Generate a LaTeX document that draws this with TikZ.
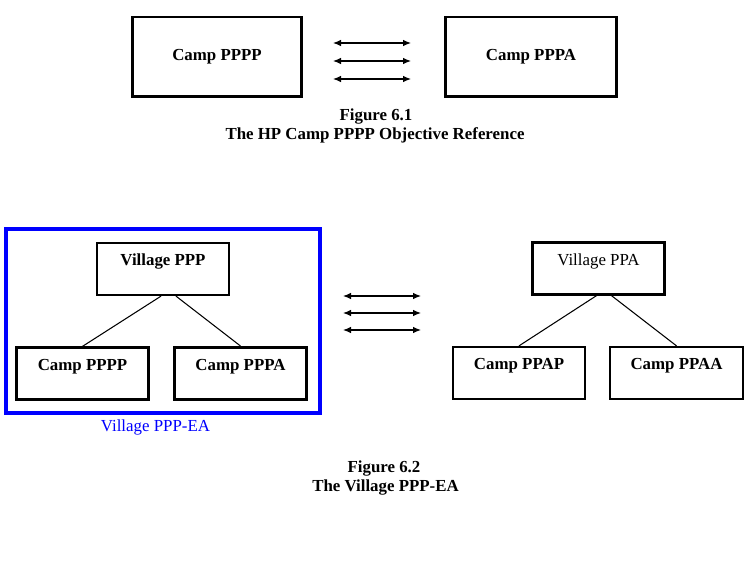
\documentclass[tikz,border=0pt]{standalone}
\usepackage{fontspec}
\setmainfont{Liberation Serif}
\usepackage{tikz}
\usetikzlibrary{arrows.meta,positioning}

\begin{document}
\begin{tikzpicture}[>={Latex[length=0.16cm,width=0.13cm]}, x=0.02cm, y=-0.02cm]
        \tikzset{camp/.style={rectangle, draw, line width=1.7pt, align=center, minimum width=3.4cm, minimum height=1.6cm, font=\fontsize{9.6}{11}\selectfont\bfseries}, unit/.style={rectangle, draw, line width=1.3pt, inner sep=0pt, minimum width=2.64cm, text height=0.45cm, text depth=0.59cm, font=\fontsize{9.6}{11}\selectfont\bfseries}, link/.style={line width=0.6pt}, caption/.style={anchor=base, align=center, font=\fontsize{9.6}{11}\selectfont\bfseries}}
        \useasboundingbox (0,0) rectangle (750,584);
        % Figure 6.1
        \node[camp] (pppp) at (217,57) {Camp PPPP};
        \node[camp, minimum width=3.44cm] (pppa) at (531,57) {Camp PPPA};
        \foreach \yy [count=\i] in {43,61,79} {
            \coordinate (a\i) at (333,\yy);
            \coordinate (b\i) at (411,\yy);
            \draw[<->, link] (a\i) -- (b\i);
        }
        \node[caption] (f1) at (376,120.7) {Figure 6.1};
        \node[caption] (t1) at (375,139.5) {The HP Camp PPPP Objective Reference};
        % Figure 6.2
        \node[draw=blue, line width=2.6pt, minimum width=6.28cm, minimum height=3.68cm] (ea) at (163,321) {};
        \node[anchor=base, text=blue, font=\fontsize{9.6}{11}\selectfont] (eatext) at (155.5,431) {Village PPP-EA};
        \node[unit] (vppp) at (163,269) {Village PPP};
        \node[unit] (cpppp) at (82.5,373.5) {Camp PPPP};
        \node[unit, line width=1.7pt, minimum width=2.66cm] (cpppa) at (240.5,373.5) {Camp PPPA};
        \node[unit, font=\fontsize{9.6}{11}\selectfont] (vppa) at (598.5,268.5) {Village PPA};
        \node[unit] (cppap) at (519,373) {Camp PPAP};
        \node[unit, minimum width=2.66cm] (cppaa) at (676.5,373) {Camp PPAA};
        \draw[link] ([xshift=-0.04cm]vppp.south) -- (cpppp.north);
        \draw[link] ([xshift=0.26cm]vppp.south) -- (cpppa.north);
        \draw[link] ([xshift=-0.04cm]vppa.south) -- (cppap.north);
        \draw[link] ([xshift=0.26cm]vppa.south) -- (cppaa.north);
        \foreach \yy [count=\i] in {296,313,330} {
            \coordinate (c\i) at (343,\yy);
            \coordinate (d\i) at (421,\yy);
            \draw[<->, link] (c\i) -- (d\i);
        }
        \node[caption] (f2) at (384,472.7) {Figure 6.2};
        \node[caption] (t2) at (385.5,491.7) {The Village PPP-EA};
    \end{tikzpicture}
\end{document}
